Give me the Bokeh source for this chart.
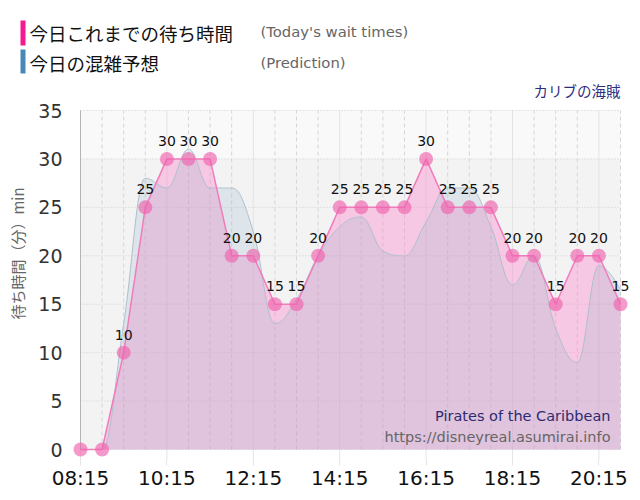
import numpy as np
from bokeh.plotting import figure
from bokeh.layouts import column, row
from bokeh.models import Range1d, FixedTicker, Label
from bokeh.embed import file_html
from bokeh.resources import INLINE
from bokeh.core.properties import value

# ---------------- data ----------------
times = ["08:15", "08:45", "09:15", "09:45", "10:15", "10:45", "11:15", "11:45",
         "12:15", "12:45", "13:15", "13:45", "14:15", "14:45", "15:15", "15:45",
         "16:15", "16:45", "17:15", "17:45", "18:15", "18:45", "19:15", "19:45",
         "20:15", "20:45"]
wait_times = [0, 0, 10, 25, 30, 30, 30, 20, 20, 15, 15, 20, 25, 25, 25, 25,
              30, 25, 25, 25, 20, 20, 15, 20, 20, 15]
prediction = [0, 0, 13, 28, 27, 31, 27, 27, 22.5, 13, 15.5, 20, 23, 24, 20.5, 20,
              23.5, 27, 27, 23, 17, 20, 12.5, 9, 19, 16.5]
x_tick_labels = ["08:15", "10:15", "12:15", "14:15", "16:15", "18:15", "20:15"]
y_ticks = [0, 5, 10, 15, 20, 25, 30, 35]

title_wait = "今日これまでの待ち時間"
title_wait_en = "(Today's wait times)"
title_pred = "今日の混雑予想"
title_pred_en = "(Prediction)"
attraction_jp = "カリブの海賊"
attraction_en = "Pirates of the Caribbean"
site_url = "https://disneyreal.asumirai.info"
y_label = "待ち時間（分）min"


def to_min(t):
    h, m = t.split(":")
    return int(h) * 60 + int(m)


x = np.array([to_min(t) for t in times], dtype=float)
x_ticks = [to_min(t) for t in x_tick_labels]

# ---------------- geometry (page pixels) ----------------
PW, PH = 640, 500
HH = 80                  # header height
LW = 30                  # left (y-label) strip width
MW, MH = PW - LW, PH - HH
# frame edges and data-area edges in page coordinates
FL, FR, FT, FB = 70, 630, HH, 460
DL, DR, DT, DB = 80, 620, 110, 449
X0, X1 = x[0], x[-1]
YMAX = y_ticks[-1]
sxp = (DR - DL) / (X1 - X0)
syp = (DB - DT) / YMAX
x_start = X0 - (DL - FL) / sxp
x_end = X1 + (FR - DR) / sxp
y_start = -(FB - DB) / syp
y_end = YMAX + (DT - FT) / syp


def dx(px):
    return x_start + (px - FL) / sxp


def dy(py):
    return y_start + (FB - py) / syp


# ---------------- spline (Highcharts-like areaspline) ----------------
def spline_path(xs, ys, sm=1.5, n=24):
    N = len(xs)
    lc = [(xs[i], ys[i]) for i in range(N)]
    rc = [(xs[i], ys[i]) for i in range(N)]
    d = sm + 1
    for i in range(1, N - 1):
        px, py = xs[i], ys[i]
        lx, ly = xs[i - 1], ys[i - 1]
        nx, ny = xs[i + 1], ys[i + 1]
        lcx = (sm * px + lx) / d
        lcy = (sm * py + ly) / d
        rcx = (sm * px + nx) / d
        rcy = (sm * py + ny) / d
        corr = 0.0
        if rcx != lcx:
            corr = ((rcy - lcy) * (rcx - px)) / (rcx - lcx) + py - rcy
        lcy += corr
        rcy += corr
        if lcy > ly and lcy > py:
            lcy = max(ly, py); rcy = 2 * py - lcy
        elif lcy < ly and lcy < py:
            lcy = min(ly, py); rcy = 2 * py - lcy
        if rcy > ny and rcy > py:
            rcy = max(ny, py); lcy = 2 * py - rcy
        elif rcy < ny and rcy < py:
            rcy = min(ny, py); lcy = 2 * py - rcy
        lc[i] = (lcx, lcy)
        rc[i] = (rcx, rcy)
    ox, oy = [xs[0]], [ys[0]]
    t = np.linspace(0, 1, n + 1)[1:]
    for i in range(1, N):
        p0 = (xs[i - 1], ys[i - 1]); c1 = rc[i - 1]; c2 = lc[i]; p3 = (xs[i], ys[i])
        a, b, c, e = (1 - t) ** 3, 3 * (1 - t) ** 2 * t, 3 * (1 - t) * t ** 2, t ** 3
        ox.extend(a * p0[0] + b * c1[0] + c * c2[0] + e * p3[0])
        oy.extend(a * p0[1] + b * c1[1] + c * c2[1] + e * p3[1])
    return np.array(ox), np.array(oy)


spx, spy = spline_path(list(x), list(map(float, prediction)))


def blank_fig(w, hgt, xr, yr):
    f = figure(width=w, height=hgt, output_backend="svg", toolbar_location=None,
               x_range=xr, y_range=yr, x_axis_type=None, y_axis_type=None,
               min_border_left=0, min_border_right=0, min_border_top=0,
               min_border_bottom=0)
    f.frame_align = False
    f.outline_line_color = None
    f.background_fill_color = "white"
    f.border_fill_color = "white"
    f.xgrid.visible = False
    f.ygrid.visible = False
    return f


# ---------------- header (page coords, y downwards) ----------------
h = blank_fig(PW, HH, Range1d(0, PW), Range1d(HH, 0))
h.quad(left=[20, 20], right=[25, 25], top=[20, 49], bottom=[45, 73],
       fill_color=["#f5188f", "#4a87b9"], line_color=None)
h.text(x=[29, 29], y=[32, 62], text=[title_wait, title_pred],
       text_font=value("Noto Sans CJK JP"), text_font_size="18.5px",
       text_color="#111111", text_align="left", text_baseline="middle")
h.text(x=[260, 260], y=[31, 62], text=[title_wait_en, title_pred_en],
       text_font=value("DejaVu Sans"), text_font_size="14.8px",
       text_color="#666666", text_align="left", text_baseline="middle")

# ---------------- y-axis title strip ----------------
yl = blank_fig(LW, MH, Range1d(0, LW), Range1d(0, MH))
yl.text(x=[17], y=[PH - 253], text=[y_label], angle=np.pi / 2,
        text_font=value("Noto Sans CJK JP"), text_font_size="15px",
        text_color="#666666", text_align="center", text_baseline="middle")

# ---------------- main figure ----------------
p = figure(width=MW, height=MH, output_backend="svg", toolbar_location=None,
           x_range=Range1d(x_start, x_end), y_range=Range1d(y_start, y_end),
           min_border_left=FL - LW, min_border_right=PW - FR,
           min_border_top=FT - HH, min_border_bottom=PH - FB)
p.frame_align = False
p.background_fill_color = "white"
p.border_fill_color = "white"
p.outline_line_color = None
p.xgrid.visible = False
p.ygrid.visible = False

# plot background bands
p.quad(left=[X0], right=[X1], bottom=[0], top=[YMAX], fill_color="#f3f3f3", line_color=None)
p.quad(left=[X0], right=[X1], bottom=[y_ticks[-2]], top=[YMAX], fill_color="#f9f9f9", line_color=None)

# grid
minor_x = [v for v in x if int(v) not in x_ticks]
p.segment(x0=minor_x, x1=minor_x, y0=[0] * len(minor_x), y1=[YMAX] * len(minor_x),
          line_color="#d6d6d6", line_dash="4 3", line_width=1)
p.segment(x0=x_ticks, x1=x_ticks, y0=[y_start] * len(x_ticks), y1=[YMAX] * len(x_ticks),
          line_color="#e4e4e4", line_width=1)
p.segment(x0=[X0] * len(y_ticks), x1=[X1] * len(y_ticks), y0=y_ticks, y1=y_ticks,
          line_color="#cfcfcf", line_dash="1 2", line_width=1)
p.segment(x0=[X0], x1=[X0], y0=[0], y1=[YMAX], line_color="#b4b4b4", line_width=1)

# areas
p.varea(x=x, y1=np.zeros_like(x), y2=wait_times, fill_color="#ff78c5", fill_alpha=0.35)
p.varea(x=spx, y1=np.zeros_like(spx), y2=spy, fill_color="#85adc6", fill_alpha=0.2)
p.line(spx, spy, line_color="#aebfcc", line_width=1)
p.line(x, wait_times, line_color="#f07cbc", line_width=1.5)
p.scatter(x, wait_times, size=14, fill_color="#f062ae", fill_alpha=0.65, line_color=None)

lab_x = [xv for xv, w in zip(x, wait_times) if w > 0]
lab_y = [w for w in wait_times if w > 0]
p.text(x=lab_x, y=lab_y, text=[str(w) for w in lab_y], y_offset=-18,
       text_align="center", text_baseline="middle", text_font=value("DejaVu Sans"),
       text_font_size="14px", text_color="#111111")

# attraction name (top right, above the plot area)
p.text(x=[X1], y=[dy(90)], text=[attraction_jp],
       text_font=value("Noto Sans CJK JP"), text_font_size="14.5px",
       text_color="#2e2e80", text_align="right", text_baseline="middle")

# axes
p.yaxis.ticker = FixedTicker(ticks=y_ticks)
p.yaxis.axis_line_color = None
p.yaxis.major_tick_line_color = None
p.yaxis.major_tick_in = 0
p.yaxis.major_tick_out = 0
p.yaxis.minor_tick_line_color = None
p.yaxis.major_label_standoff = 8
p.yaxis.major_label_text_font = "DejaVu Sans"
p.yaxis.major_label_text_font_size = "19px"
p.yaxis.major_label_text_color = "#333333"

p.xaxis.ticker = FixedTicker(ticks=x_ticks)
p.xaxis.major_label_overrides = {k: v for k, v in zip(x_ticks, x_tick_labels)}
p.xaxis.axis_line_color = None
p.xaxis.major_tick_line_color = "#e4e4e4"
p.xaxis.major_tick_in = 0
p.xaxis.major_tick_out = 5
p.xaxis.minor_tick_line_color = None
p.xaxis.major_label_standoff = 0
p.xaxis.major_label_text_font = "DejaVu Sans"
p.xaxis.major_label_text_font_size = "20px"
p.xaxis.major_label_text_color = "#111111"

p.add_layout(Label(x=dx(610), y=dy(415), text=attraction_en, text_font="DejaVu Sans",
                   text_font_size="14.5px", text_color="#2b2b70",
                   text_align="right", text_baseline="middle"))
p.add_layout(Label(x=dx(610), y=dy(436), text=site_url, text_font="DejaVu Sans",
                   text_font_size="14.5px", text_color="#666666",
                   text_align="right", text_baseline="middle"))

layout = column(h, row(yl, p, spacing=0), spacing=0)
open("out.html", "w").write(file_html(layout, INLINE))
